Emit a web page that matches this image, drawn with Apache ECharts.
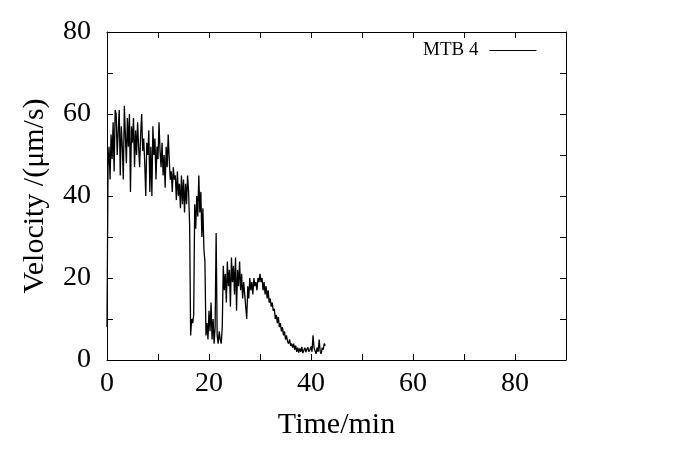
<!DOCTYPE html>
<html lang="en" style="width: 100%;height:100%">
    <head>
        <meta charset="UTF-8">
        <title>MTB 4 velocity</title>
        <script src="https://cdn.jsdelivr.net/npm/echarts@6/dist/echarts.min.js"></script>
    </head>
    <body style="width: 100%;height:100%;margin:0">
        <div id="chart" style="width: 675px;height:450px"></div>
        <script>
            // sampling step of the track (min)
            const timeStep = 0.2;

            // velocity in um/s, one value per time step starting at t = 0
            const velocity = [
                8, 47, 52, 44, 55, 49, 58, 46, 61, 60,
                50, 56, 61, 45, 57, 52, 44, 62, 55, 48,
                59, 52, 60, 41, 57, 53, 59, 47, 56, 50,
                58, 52, 47, 55, 60, 51, 54, 48, 40, 53,
                50, 56, 41, 52, 40, 57, 50, 54, 44, 52,
                49, 58, 51, 47, 53, 45, 50, 42, 52, 47,
                55, 49, 44, 46, 41, 47, 44, 45, 39, 46,
                40, 43, 37, 45, 38, 44, 36, 43, 38, 45,
                41, 33, 6, 10, 9, 11, 38, 32, 40, 35,
                45, 36, 41, 30, 37, 27, 24, 6, 9, 5,
                12, 7, 14, 5, 10, 4, 8, 31, 6, 4,
                7, 5, 4, 8, 23, 17, 21, 14, 24, 18,
                22, 13, 25, 19, 23, 16, 25, 12, 22, 18,
                24, 17, 21, 15, 19, 16, 13, 10, 18, 15,
                20, 17, 19, 16, 20, 18, 19, 17, 20, 19,
                21, 19, 20, 17, 19, 16, 18, 15, 17, 14,
                15, 13, 14, 12, 12.5, 10, 11, 9, 10.5, 8,
                9, 7, 8, 6, 7, 5, 6, 4.5, 4, 5,
                3.5, 4, 3, 4, 2.5, 3.5, 2, 3, 1.8, 2.8,
                2, 3.2, 1.7, 2.4, 3, 1.9, 2.6, 3.1, 2, 2.5,
                3.3, 2, 6, 3, 2.2, 1.5, 3, 2, 5, 2.1,
                1.5, 3, 2.5, 4, 3.5
            ];

            const seriesName = 'MTB 4';
            const xTickLabels = ['0', '20', '40', '60', '80'];
            const yTickLabels = ['0', '20', '40', '60', '80'];

            const points = [];
            for (let i = 0; i < velocity.length; i++) {
                points.push([+(i * timeStep).toFixed(2), velocity[i]]);
            }

            const serif = 'Liberation Serif';

            function frameAxis(pos, show, min, max) {
                return {
                    type: 'value',
                    position: pos,
                    min: min,
                    max: max,
                    interval: 10,
                    splitLine: { show: false },
                    axisLine: { show: true, onZero: false, lineStyle: { color: '#000', width: 1 } },
                    axisTick: { show: true, inside: true, length: 6, lineStyle: { color: '#000', width: 1 } },
                    axisLabel: { show: show }
                };
            }

            const xBottom = frameAxis('bottom', true, 0, 90);
            xBottom.name = 'Time/min';
            xBottom.nameLocation = 'middle';
            xBottom.nameGap = 50;
            xBottom.nameTextStyle = { fontFamily: serif, fontSize: 30, color: '#000' };
            xBottom.axisLabel = {
                show: true, margin: 10, fontFamily: serif, fontSize: 28, color: '#000',
                showMaxLabel: false,
                formatter: function (v) { return xTickLabels.indexOf(String(v)) >= 0 ? String(v) : ''; }
            };

            const yLeft = frameAxis('left', true, 0, 80);
            yLeft.name = 'Velocity /(\u03bcm/s)';
            yLeft.nameLocation = 'middle';
            yLeft.nameGap = 57;
            yLeft.nameTextStyle = { fontFamily: serif, fontSize: 30, color: '#000' };
            yLeft.axisLabel = {
                show: true, margin: 16, fontFamily: serif, fontSize: 28, color: '#000',
                formatter: function (v) { return yTickLabels.indexOf(String(v)) >= 0 ? String(v) : ''; }
            };

            const myChart = echarts.init(document.getElementById('chart'));

            const option = {
                backgroundColor: '#fff',
                animation: false,
                grid: {
                    left: 107,
                    right: 109,
                    top: 32,
                    bottom: 90,
                    containLabel: false
                },
                legend: {
                    data: [seriesName],
                    left: 418,
                    top: 36,
                    align: 'right',
                    icon: 'rect',
                    itemWidth: 47,
                    itemHeight: 1,
                    itemGap: 10,
                    textStyle: { fontFamily: serif, fontSize: 19, color: '#000', padding: [0, 6, 0, 0] }
                },
                xAxis: [xBottom, frameAxis('top', false, 0, 90)],
                yAxis: [yLeft, frameAxis('right', false, 0, 80)],
                series: [
                    {
                        name: seriesName,
                        type: 'line',
                        xAxisIndex: 0,
                        yAxisIndex: 0,
                        showSymbol: false,
                        color: '#000',
                        lineStyle: { color: '#000', width: 1.3 },
                        data: points
                    }
                ]
            };

            myChart.setOption(option);
        </script>
    </body>
</html>
